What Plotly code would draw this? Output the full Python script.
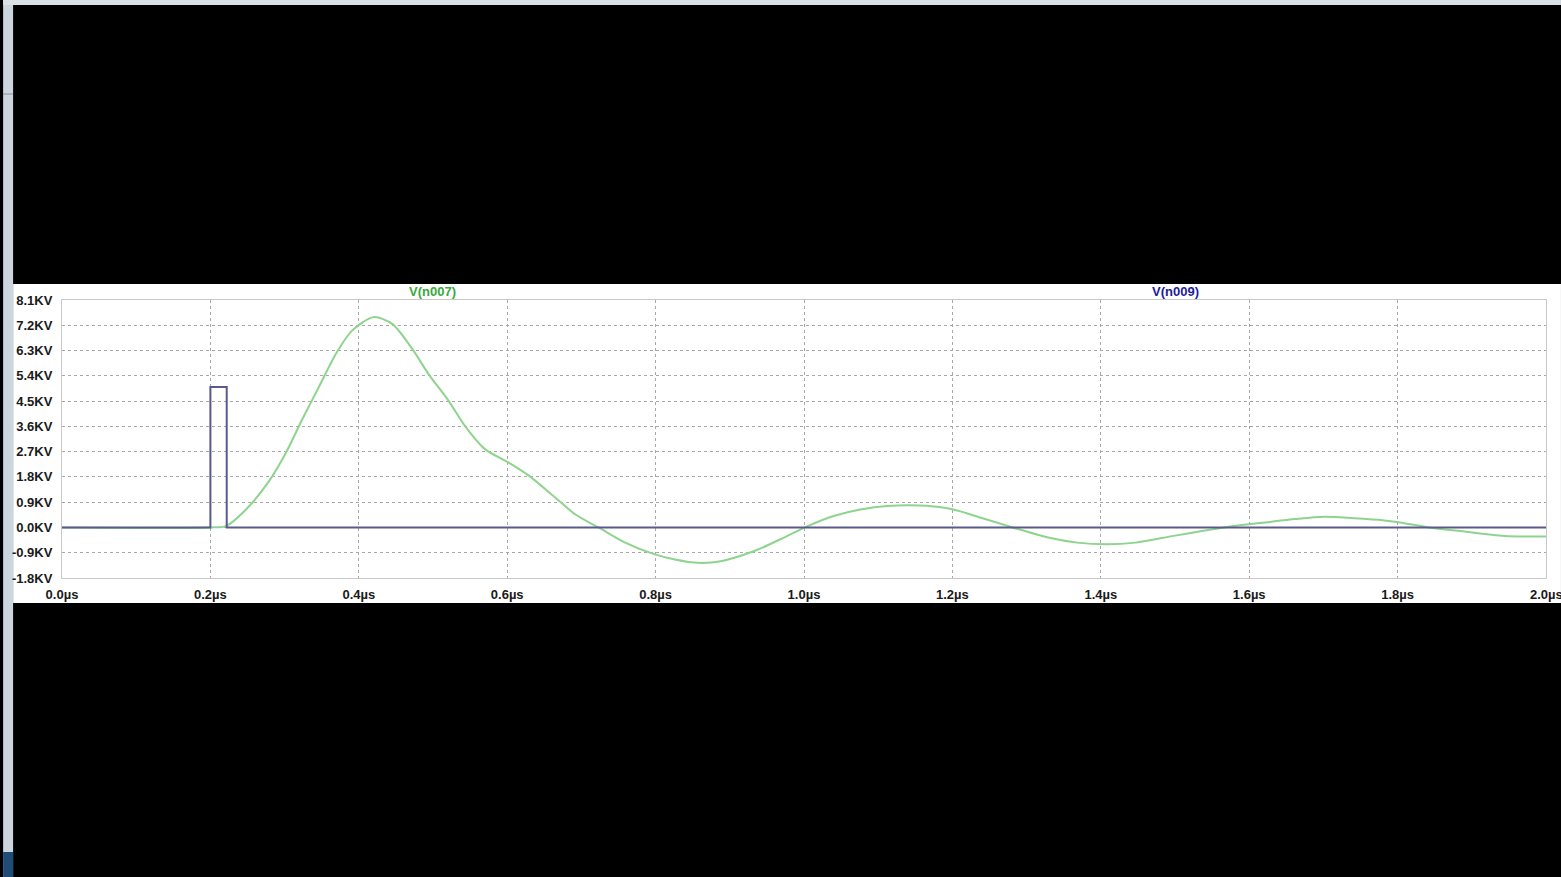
import plotly.graph_objects as go

# ---- data ----
t_n009 = [0.0, 0.2, 0.2, 0.222, 0.222, 2.0]
v_n009 = [0.0, 0.0, 5.0, 5.0, 0.0, 0.0]

t_n007 = [0.0, 0.2, 0.221, 0.248, 0.279, 0.302, 0.324, 0.346, 0.369, 0.391, 0.420,
          0.445, 0.472, 0.494, 0.521, 0.543, 0.570, 0.602, 0.630, 0.665, 0.692,
          0.723, 0.759, 0.799, 0.826, 0.857, 0.888, 0.933, 0.973, 1.005, 1.040,
          1.076, 1.112, 1.140, 1.165, 1.200, 1.244, 1.281, 1.329, 1.368, 1.408,
          1.447, 1.498, 1.538, 1.577, 1.622, 1.662, 1.701, 1.741, 1.780, 1.803,
          1.842, 1.882, 1.944, 2.0]
v_n007 = [0.0, 0.0, 0.05, 0.64, 1.65, 2.67, 3.86, 4.99, 6.18, 7.01, 7.49,
          7.25, 6.36, 5.46, 4.51, 3.62, 2.79, 2.31, 1.83, 1.06, 0.46,
          0.0, -0.54, -0.96, -1.14, -1.26, -1.20, -0.84, -0.36, 0.05, 0.41,
          0.64, 0.76, 0.79, 0.77, 0.65, 0.30, 0.0, -0.36, -0.54, -0.60,
          -0.54, -0.30, -0.12, 0.04, 0.18, 0.30, 0.38, 0.33, 0.26, 0.18,
          0.0, -0.12, -0.30, -0.32]

x_ticks = [0.0, 0.2, 0.4, 0.6, 0.8, 1.0, 1.2, 1.4, 1.6, 1.8, 2.0]
x_labels = ["0.0µs", "0.2µs", "0.4µs", "0.6µs", "0.8µs", "1.0µs",
            "1.2µs", "1.4µs", "1.6µs", "1.8µs", "2.0µs"]
y_ticks = [-1.8, -0.9, 0.0, 0.9, 1.8, 2.7, 3.6, 4.5, 5.4, 6.3, 7.2, 8.1]
y_labels = ["-1.8KV", "-0.9KV", "0.0KV", "0.9KV", "1.8KV", "2.7KV",
            "3.6KV", "4.5KV", "5.4KV", "6.3KV", "7.2KV", "8.1KV"]

W, H = 1561, 877
L, R, T, B = 59, 1546, 300, 578  # plot area pixels


def px(x):
    return (x - L) / (R - L)


def py(y):
    return (B - y) / (B - T)


fig = go.Figure()
fig.add_trace(go.Scatter(x=t_n007, y=v_n007, mode="lines", name="V(n007)",
                         line=dict(color="#8ed48e", width=2, shape="spline", smoothing=0.8)))
fig.add_trace(go.Scatter(x=t_n009, y=v_n009, mode="lines", name="V(n009)",
                         line=dict(color="#5a5a8c", width=2)))

shapes = [
    dict(type="rect", xref="paper", yref="paper", x0=px(10), x1=px(1561), y0=py(603), y1=py(284),
         fillcolor="white", line=dict(width=0), layer="below"),
    dict(type="rect", xref="paper", yref="paper", x0=px(0), x1=px(10), y0=py(877), y1=py(0),
         fillcolor="#cbd6df", line=dict(width=0), layer="below"),
    dict(type="rect", xref="paper", yref="paper", x0=px(0), x1=px(1561), y0=py(5), y1=py(0),
         fillcolor="#d9e0e6", line=dict(width=0), layer="below"),
    dict(type="rect", xref="paper", yref="paper", x0=px(0), x1=px(10), y0=py(877), y1=py(852),
         fillcolor="#1f4b77", line=dict(width=0), layer="below"),
    dict(type="line", xref="paper", yref="paper", x0=px(0), x1=px(10), y0=py(94), y1=py(94),
         line=dict(color="#8a8f94", width=1), layer="below"),
]

fontfam = "Liberation Sans, Arial"
tickfont = dict(family=fontfam, size=13, color="#1a1a1a")

# the last x label is drawn as an annotation so it can be clipped by the page edge
shown_x = x_ticks[:-1]
shown_lbl = [f"<b>{s}</b>" for s in x_labels[:-1]]

fig.update_layout(
    width=W, height=H,
    margin=dict(l=L, r=W - R, t=T, b=H - B, pad=0),
    paper_bgcolor="black",
    plot_bgcolor="white",
    showlegend=False,
    shapes=shapes,
    xaxis=dict(range=[0, 2.0], tickvals=shown_x, ticktext=shown_lbl,
               showgrid=True, gridcolor="#a8a8a8", griddash="dot", gridwidth=1,
               showline=True, linecolor="#c8c8c8", linewidth=1, mirror=True,
               zeroline=False, ticks="", tickfont=tickfont, ticklabelstandoff=4),
    yaxis=dict(range=[-1.8, 8.1], tickvals=y_ticks, ticktext=[f"<b>{s}</b>" for s in y_labels],
               showgrid=True, gridcolor="#a8a8a8", griddash="dot", gridwidth=1,
               showline=True, linecolor="#c8c8c8", linewidth=1, mirror=True,
               zeroline=False, ticks="", tickfont=tickfont, ticklabelstandoff=6),
    annotations=[
        dict(text="<b>V(n007)</b>", xref="paper", yref="paper", x=px(430), y=py(291),
             xanchor="center", yanchor="middle",
             showarrow=False, font=dict(family=fontfam, size=13, color="#3aa83a")),
        dict(text="<b>V(n009)</b>", xref="paper", yref="paper", x=px(1175), y=py(291),
             xanchor="center", yanchor="middle",
             showarrow=False, font=dict(family=fontfam, size=13, color="#1c1ca0")),
        dict(text=f"<b>{x_labels[-1]}</b>", xref="x", yref="paper", x=x_ticks[-1], y=py(594),
             xanchor="center", yanchor="middle",
             showarrow=False, font=tickfont),
    ],
)

fig.write_html("out.html", config={"displayModeBar": False},
               post_script="document.body.style.margin='0px';document.body.style.overflow='hidden';")
